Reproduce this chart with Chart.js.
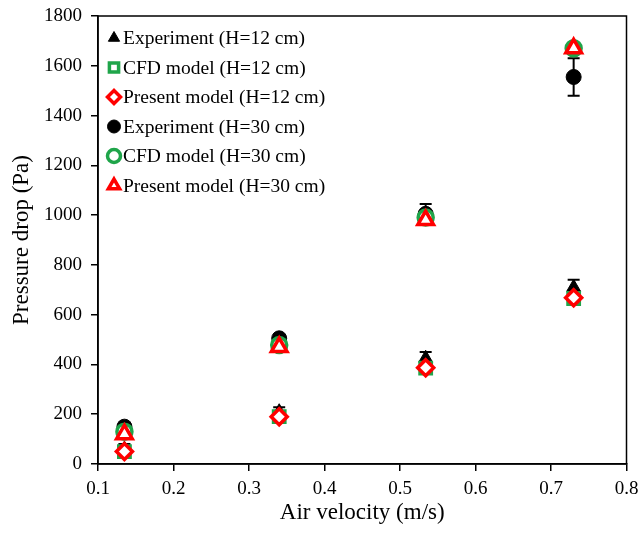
<!DOCTYPE html>
<html>
<head>
<meta charset="utf-8">
<script src="https://cdn.jsdelivr.net/npm/chart.js@4.4.1/dist/chart.umd.min.js"></script>
<style>
  html, body { margin: 0; padding: 0; background: #fff; }
  #wrap { width: 639px; height: 537px; }
</style>
</head>
<body>
<div id="wrap"><canvas id="chart"></canvas></div>
<script>
// --- data ---
const velocity = [0.135, 0.34, 0.534, 0.73];

const exp12 = [60, 210, 425, 710];
const exp12Err = [20, 18, 25, 30];
const cfd12 = [50, 190, 385, 665];
const present12 = [50, 190, 387, 668];

const exp30 = [150, 505, 1005, 1555];
const exp30Err = [10, 12, 40, 75];
const cfd30 = [130, 478, 990, 1670];
const present30 = [120, 470, 980, 1670];

const xTickLabels = ['0.1', '0.2', '0.3', '0.4', '0.5', '0.6', '0.7', '0.8'];
const yTickLabels = ['0', '200', '400', '600', '800', '1000', '1200', '1400', '1600', '1800'];

const serif = "'Liberation Serif', 'Times New Roman', serif";
const green = '#1fa54a';
const red = '#ff0000';

function pts(ys) {
  return velocity.map((v, i) => ({ x: v, y: ys[i] }));
}

// error bars for the experiment series, drawn through the scales
const errorBars = {
  id: 'errorBars',
  beforeDatasetsDraw(chart) {
    const ctx = chart.ctx;
    const xs = chart.scales.x, ys = chart.scales.y;
    const sets = [[exp12, exp12Err], [exp30, exp30Err]];
    ctx.save();
    ctx.strokeStyle = '#000';
    ctx.lineWidth = 2;
    sets.forEach(([vals, errs]) => {
      vals.forEach((v, i) => {
        const px = xs.getPixelForValue(velocity[i]);
        const top = ys.getPixelForValue(v + errs[i]);
        const bot = ys.getPixelForValue(v - errs[i]);
        ctx.beginPath();
        ctx.moveTo(px, top); ctx.lineTo(px, bot);
        ctx.moveTo(px - 6, top); ctx.lineTo(px + 6, top);
        ctx.moveTo(px - 6, bot); ctx.lineTo(px + 6, bot);
        ctx.stroke();
      });
    });
    ctx.restore();
  }
};

// frame round the plot area
const frame = {
  id: 'frame',
  afterDraw(chart) {
    const a = chart.chartArea, ctx = chart.ctx;
    ctx.save();
    ctx.strokeStyle = '#000';
    ctx.lineWidth = 1.5;
    ctx.strokeRect(a.left, a.top, a.right - a.left, a.bottom - a.top);
    ctx.restore();
  }
};

// legend inside the plot, top left, one item per row
const insideLegend = {
  id: 'insideLegend',
  afterDraw(chart) {
    const ctx = chart.ctx;
    const a = chart.chartArea;
    ctx.save();
    ctx.textBaseline = 'middle';
    chart.data.datasets.forEach((ds, row) => {
      const cy = a.top + 22 + row * 29.5;
      const cx = a.left + 16;
      ctx.fillStyle = ds.pointBackgroundColor;
      ctx.strokeStyle = ds.pointBorderColor;
      ctx.lineWidth = ds.pointBorderWidth;
      Chart.helpers.drawPoint(ctx, {
        pointStyle: ds.pointStyle,
        radius: 6.5,
        borderWidth: ds.pointBorderWidth,
        rotation: 0
      }, cx, cy);
      ctx.fillStyle = '#000';
      ctx.font = '19.5px ' + serif;
      ctx.fillText(ds.label, cx + 9, cy + 1);
    });
    ctx.restore();
  }
};

function series(label, data, style, fill, stroke, bw, order, r) {
  return {
    label: label,
    data: pts(data),
    pointStyle: style,
    pointRadius: r,
    pointHoverRadius: r,
    pointBackgroundColor: fill,
    pointBorderColor: stroke,
    pointBorderWidth: bw,
    showLine: false,
    order: order
  };
}

new Chart(document.getElementById('chart'), {
  type: 'scatter',
  data: {
    datasets: [
      series('Experiment (H=12 cm)', exp12, 'triangle', '#000', '#000', 1, 3, 8),
      series('CFD model (H=12 cm)', cfd12, 'rect', '#fff', green, 3.5, 2, 8),
      series('Present model (H=12 cm)', present12, 'rectRot', '#fff', red, 3.5, 1, 8),
      series('Experiment (H=30 cm)', exp30, 'circle', '#000', '#000', 1, 3, 7.5),
      series('CFD model (H=30 cm)', cfd30, 'circle', '#fff', green, 3.5, 2, 7.5),
      series('Present model (H=30 cm)', present30, 'triangle', '#fff', red, 3.5, 1, 9)
    ]
  },
  options: {
    responsive: true,
    maintainAspectRatio: false,
    animation: false,
    events: [],
    layout: { padding: { top: 16, right: 9, left: 8, bottom: 0 } },
    plugins: {
      legend: { display: false },
      tooltip: { enabled: false }
    },
    scales: {
      x: {
        type: 'linear',
        min: 0.1,
        max: 0.8,
        ticks: {
          stepSize: 0.1,
          color: '#000',
          font: { family: serif, size: 19 },
          padding: 7,
          maxRotation: 0,
          callback: (v) => xTickLabels[Math.round((v - 0.1) * 10)]
        },
        grid: { drawOnChartArea: false, color: '#000', tickLength: 7, lineWidth: 1.5 },
        border: { color: '#000', width: 1.5 },
        title: {
          display: true,
          text: 'Air velocity (m/s)',
          color: '#000',
          font: { family: serif, size: 23 },
          padding: { top: 4, bottom: 10 }
        },
        afterFit: (s) => { s.height = 73; s.paddingRight = 0; s.paddingLeft = 0; }
      },
      y: {
        type: 'linear',
        min: 0,
        max: 1800,
        ticks: {
          stepSize: 200,
          color: '#000',
          font: { family: serif, size: 19 },
          padding: 9,
          callback: (v) => yTickLabels[Math.round(v / 200)]
        },
        grid: { drawOnChartArea: false, color: '#000', tickLength: 7, lineWidth: 1.5 },
        border: { color: '#000', width: 1.5 },
        title: {
          display: true,
          text: 'Pressure drop (Pa)',
          color: '#000',
          font: { family: serif, size: 23 },
          padding: { top: 0, bottom: 6 }
        },
        afterFit: (s) => { s.width = 90; s.paddingTop = 0; s.paddingBottom = 0; }
      }
    }
  },
  plugins: [errorBars, frame, insideLegend]
});
</script>
</body>
</html>
